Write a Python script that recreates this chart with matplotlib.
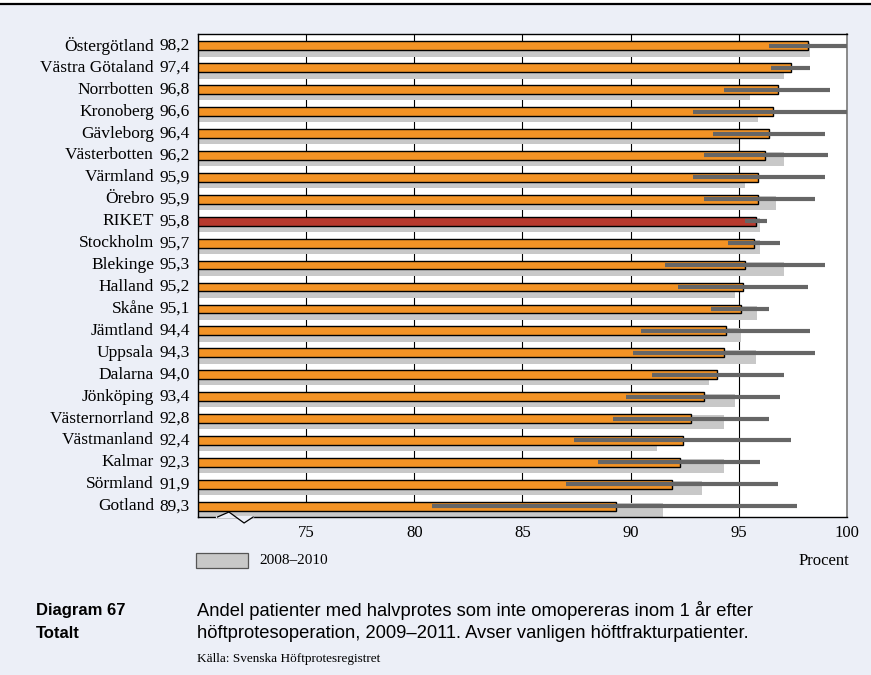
import matplotlib
matplotlib.use("Agg")
import matplotlib.pyplot as plt
from matplotlib.transforms import blended_transform_factory, offset_copy
from matplotlib.patches import Rectangle, Polygon
from matplotlib.lines import Line2D

regions = ["Östergötland", "Västra Götaland", "Norrbotten", "Kronoberg", "Gävleborg",
           "Västerbotten", "Värmland", "Örebro", "RIKET", "Stockholm", "Blekinge",
           "Halland", "Skåne", "Jämtland", "Uppsala", "Dalarna", "Jönköping",
           "Västernorrland", "Västmanland", "Kalmar", "Sörmland", "Gotland"]
share_2009_2011 = [98.2, 97.4, 96.8, 96.6, 96.4, 96.2, 95.9, 95.9, 95.8, 95.7, 95.3,
                   95.2, 95.1, 94.4, 94.3, 94.0, 93.4, 92.8, 92.4, 92.3, 91.9, 89.3]
share_2008_2010 = [98.3, 97.1, 95.5, 95.9, 95.0, 97.1, 95.3, 96.7, 96.0, 96.0, 97.1,
                   94.8, 95.85, 95.1, 95.8, 93.6, 94.8, 94.3, 91.2, 94.3, 93.3, 91.5]
ci_low = [96.4, 96.5, 94.3, 92.9, 93.8, 93.4, 92.9, 93.4, 95.3, 94.5, 91.6,
          92.2, 93.7, 90.5, 90.1, 91.0, 89.8, 89.2, 87.4, 88.5, 87.0, 80.8]
ci_high = [100.0, 98.3, 99.2, 100.0, 99.0, 99.1, 99.0, 98.5, 96.3, 96.9, 99.0,
           98.2, 96.4, 98.3, 98.5, 97.1, 96.9, 96.4, 97.4, 96.0, 96.8, 97.7]
xticks = [75, 80, 85, 90, 95, 100]
legend_label = "2008–2010"

BG = "#ECEFF7"
ORANGE = "#F39325"
RED = "#B83A2E"
GREY = "#C8C8C8"
CI = "#666666"
SERIF = "Liberation Serif"
SANS = "Liberation Sans"

fig = plt.figure(figsize=(8.71, 6.75), dpi=100)
fig.patch.set_facecolor(BG)
# white strip and rule across the top
fig.patches.append(Rectangle((0, 1 - 5 / 675), 1, 5 / 675, transform=fig.transFigure,
                             facecolor="white", edgecolor="none"))
fig.lines.append(Line2D([0, 1], [1 - 4 / 675, 1 - 4 / 675], transform=fig.transFigure,
                        color="black", lw=1.6))

ax = fig.add_axes([198 / 871, 1 - 517 / 675, 649 / 871, 483 / 675])
ax.set_facecolor("white")

n = len(regions)
rows = list(range(n))
bar_c = [r + 0.20 for r in rows]
grey_c = [r + 0.375 for r in rows]

for x in xticks[:-1]:
    ax.axvline(x, color="black", lw=0.8, zorder=0)

ax.barh(grey_c, share_2008_2010, height=0.63, color=GREY, edgecolor="none", zorder=1)
colors = [RED if r == "RIKET" else ORANGE for r in regions]
ax.barh(bar_c, share_2009_2011, height=0.40, color=colors, edgecolor="black",
        linewidth=1.0, zorder=2)
ax.hlines(bar_c, ci_low, ci_high, color=CI, lw=3.0, zorder=3)

ax.set_xlim(70, 100)
ax.set_ylim(n - 1 + 0.69, -0.34)
ax.set_xticks(xticks)
ax.set_xticklabels([str(t) for t in xticks], family=SERIF, fontsize=12)
ax.tick_params(axis="x", length=0, pad=6)
ax.set_yticks([])
for side in ["left", "bottom", "top"]:
    ax.spines[side].set_color("black")
    ax.spines[side].set_linewidth(1.0)
ax.spines["right"].set_color("#8A8A8A")
ax.spines["right"].set_linewidth(1.4)

trans = blended_transform_factory(ax.transAxes, ax.transData)
val_tr = offset_copy(trans, fig=fig, x=-8, y=0, units="dots")
name_tr = offset_copy(trans, fig=fig, x=-44, y=0, units="dots")
for name, v, y in zip(regions, share_2009_2011, bar_c):
    ax.text(0, y, f"{v:.1f}".replace(".", ","), transform=val_tr, ha="right",
            va="center", family=SERIF, fontsize=12.5)
    ax.text(0, y, name, transform=name_tr, ha="right", va="center",
            family=SERIF, fontsize=12.5)

# axis break marker on the bottom spine
tb = blended_transform_factory(ax.transData, ax.transAxes)
px = 1 / 483
ax.add_patch(Polygon([(70.9, 0), (71.43, 5 * px), (72.13, -6 * px), (72.55, 0)],
                     closed=True, transform=tb, facecolor=BG, edgecolor="none",
                     clip_on=False, zorder=5))
ax.add_line(Line2D([70.9, 72.55], [0, 0], transform=tb, color=BG, lw=1.6,
                   clip_on=False, zorder=5.5))
ax.add_line(Line2D([70.9, 71.43, 72.13, 72.55], [0, 5 * px, -6 * px, 0], transform=tb,
                   color="black", lw=0.9, clip_on=False, zorder=6))

# legend and unit label
fig.patches.append(Rectangle((196 / 871, 1 - 568 / 675), 52 / 871, 15 / 675,
                             transform=fig.transFigure, facecolor=GREY,
                             edgecolor="#555555", lw=0.9))
fig.text(259 / 871, 1 - 561 / 675, legend_label, family=SERIF, fontsize=11,
         va="center", ha="left")
fig.text(849 / 871, 1 - 561 / 675, "Procent", family=SERIF, fontsize=12,
         va="center", ha="right")

# caption block
fig.text(36 / 871, 1 - 611 / 675, "Diagram 67", family=SANS, fontsize=12,
         weight="bold", va="center")
fig.text(36 / 871, 1 - 634 / 675, "Totalt", family=SANS, fontsize=12,
         weight="bold", va="center")
fig.text(197 / 871, 1 - 611 / 675,
         "Andel patienter med halvprotes som inte omopereras inom 1 år efter",
         family=SANS, fontsize=13.2, va="center")
fig.text(197 / 871, 1 - 634 / 675,
         "höftprotesoperation, 2009–2011. Avser vanligen höftfrakturpatienter.",
         family=SANS, fontsize=13.2, va="center")
fig.text(197 / 871, 1 - 659 / 675, "Källa: Svenska Höftprotesregistret",
         family=SERIF, fontsize=9.5, va="center")

fig.savefig("out.png", dpi=100, facecolor=fig.get_facecolor())
